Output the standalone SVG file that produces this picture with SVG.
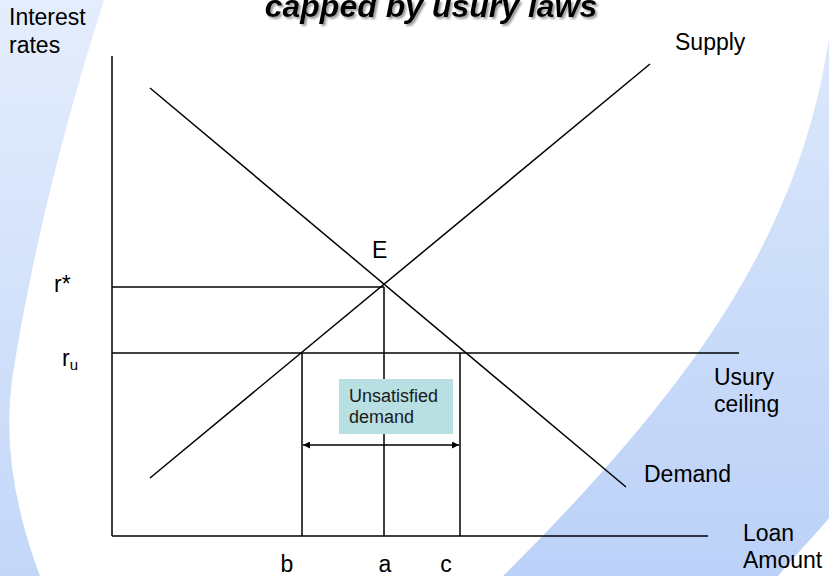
<svg xmlns="http://www.w3.org/2000/svg" width="829" height="576" viewBox="0 0 829 576">
  <style>
    .ln { stroke: #000; stroke-width: 1.5; fill: none; }
    .lbl { font-family: "Liberation Sans", Arial, sans-serif; font-size: 23px; fill: #000; }
    .sm { font-family: "Liberation Sans", Arial, sans-serif; font-size: 18px; fill: #1a1a1a; }
    .ttl { font-family: "Liberation Sans", Arial, sans-serif; font-size: 32px; font-weight: bold; font-style: italic; fill: #000; }
  </style>
  <defs>
    <linearGradient id="gl" x1="0" y1="0" x2="0" y2="1">
      <stop offset="0" stop-color="#e4edfc"/>
      <stop offset="1" stop-color="#c3d7f9"/>
    </linearGradient>
    <linearGradient id="gr" x1="0" y1="0" x2="0" y2="1">
      <stop offset="0" stop-color="#dce8fc"/>
      <stop offset="0.5" stop-color="#cadcf9"/>
      <stop offset="1" stop-color="#bcd1f8"/>
    </linearGradient>
    <filter id="sh" x="-5%" y="-50%" width="110%" height="200%">
      <feDropShadow dx="2" dy="2" stdDeviation="0.8" flood-color="#808080" flood-opacity="0.8"/>
    </filter>
    <marker id="ah" viewBox="0 0 10 10" refX="10" refY="5" markerWidth="7" markerHeight="7" markerUnits="userSpaceOnUse" orient="auto-start-reverse">
      <path d="M0,0 L10,5 L0,10 Z" fill="#000"/>
    </marker>
  </defs>

  <g id="background">
    <rect x="0" y="0" width="829" height="576" fill="#fff"/>
    <path d="M0,0 L104,0 Q40,200 12,380 Q0,470 40,576 L0,576 Z" fill="url(#gl)"/>
    <path d="M829,38 C800,230 700,380 503,576 L778,576 C800,550 815,535 829,518 Z" fill="url(#gr)"/>
  </g>

  <g id="title">
    <text class="ttl" x="431" y="17" text-anchor="middle" filter="url(#sh)">capped by usury laws</text>
  </g>

  <g id="connectors">
    <line class="ln" x1="112" y1="56" x2="112" y2="536"/>
    <line class="ln" x1="112" y1="536" x2="708" y2="536"/>
    <line class="ln" x1="150" y1="478" x2="650" y2="64"/>
    <line class="ln" x1="150" y1="88" x2="626" y2="487"/>
    <line class="ln" x1="112" y1="287" x2="384" y2="287"/>
    <line class="ln" x1="112" y1="353" x2="739" y2="353"/>
    <line class="ln" x1="302" y1="353" x2="302" y2="536"/>
    <line class="ln" x1="384" y1="287" x2="384" y2="536"/>
    <line class="ln" x1="460" y1="353" x2="460" y2="536"/>
    <line class="ln" x1="303" y1="445" x2="459" y2="445" marker-start="url(#ah)" marker-end="url(#ah)"/>
  </g>

  <g id="node-unsatisfied">
    <rect x="339" y="379" width="114" height="55" fill="#b8e0e3"/>
    <text class="sm" x="349" y="402">Unsatisfied</text>
    <text class="sm" x="349" y="423">demand</text>
  </g>

  <g id="node-axis-y"><text class="lbl" x="9" y="25">Interest</text><text class="lbl" x="9" y="53">rates</text></g>
  <g id="node-supply"><text class="lbl" x="675" y="50">Supply</text></g>
  <g id="node-e"><text class="lbl" x="372" y="258">E</text></g>
  <g id="node-rstar"><text class="lbl" x="54" y="292">r*</text></g>
  <g id="node-ru"><text class="lbl" x="62" y="366">r<tspan font-size="15" dy="4">u</tspan></text></g>
  <g id="node-usury"><text class="lbl" x="714" y="385">Usury</text><text class="lbl" x="714" y="412">ceiling</text></g>
  <g id="node-demand"><text class="lbl" x="644" y="482">Demand</text></g>
  <g id="node-loan"><text class="lbl" x="743" y="541">Loan</text><text class="lbl" x="743" y="568">Amount</text></g>
  <g id="node-b"><text class="lbl" x="287" y="572" text-anchor="middle">b</text></g>
  <g id="node-a"><text class="lbl" x="385" y="572" text-anchor="middle">a</text></g>
  <g id="node-c"><text class="lbl" x="446" y="572" text-anchor="middle">c</text></g>
</svg>
